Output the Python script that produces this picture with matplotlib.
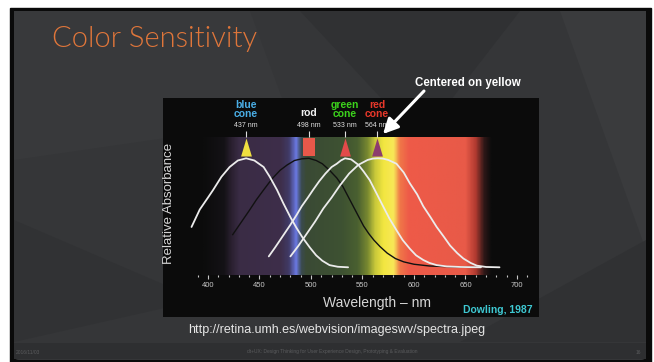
import matplotlib
matplotlib.use("Agg")
import matplotlib.pyplot as plt
import numpy as np
from matplotlib.colors import LinearSegmentedColormap
from matplotlib.patches import FancyBboxPatch, Polygon, Rectangle

plt.rcParams['font.family'] = ['Liberation Sans', 'DejaVu Sans']

# absorbance curves (wavelength nm, relative absorbance)
blue_nm = [384, 392, 400, 405, 413, 421, 429, 437, 445, 454, 460, 467, 473, 480, 486, 492, 499, 505, 511,
           518, 526, 536]
blue_abs = [0.37, 0.53, 0.64, 0.71, 0.83, 0.92, 0.98, 1.0, 0.98, 0.92, 0.83, 0.71, 0.59, 0.46, 0.36, 0.27,
            0.18, 0.11, 0.06, 0.02, 0.005, 0.0]

rod_nm = [424, 432, 440, 447, 454, 462, 470, 477, 484, 491, 498, 505, 511, 518, 525, 531, 536, 541, 546,
          551, 556, 561, 567, 574, 582, 590, 600, 615, 640, 660]
rod_abs = [0.30, 0.41, 0.52, 0.62, 0.71, 0.81, 0.89, 0.94, 0.98, 0.995, 1.0, 0.98, 0.95, 0.89, 0.82, 0.74,
           0.65, 0.56, 0.47, 0.38, 0.31, 0.25, 0.19, 0.13, 0.08, 0.05, 0.028, 0.012, 0.003, 0.0]

green_nm = [459, 465, 470, 475, 480, 486, 491, 497, 502, 508, 514, 520, 525, 529, 533, 539, 546, 551, 557,
            563, 570, 576, 583, 589, 596, 602, 609, 615, 622, 632, 645, 665]
green_abs = [0.10, 0.18, 0.25, 0.32, 0.39, 0.48, 0.56, 0.64, 0.71, 0.79, 0.86, 0.92, 0.95, 0.98, 1.0, 0.99,
             0.94, 0.88, 0.80, 0.69, 0.56, 0.45, 0.34, 0.25, 0.17, 0.11, 0.067, 0.04, 0.02, 0.008, 0.003, 0.0]

red_nm = [480, 488, 496, 504, 512, 520, 528, 537, 546, 555, 560, 565, 570, 575, 583, 590, 596, 603,
          609, 616, 622, 629, 635, 642, 648, 655, 661, 670, 683]
red_abs = [0.10, 0.20, 0.31, 0.42, 0.54, 0.64, 0.75, 0.86, 0.94, 0.985, 0.997, 1.0, 0.997, 0.985, 0.95, 0.87,
           0.77, 0.67, 0.56, 0.46, 0.37, 0.28, 0.20, 0.13, 0.08, 0.04, 0.015, 0.003, 0.0]

peak_names = ['blue\ncone', 'rod', 'green\ncone', 'red\ncone']
peak_nm = [437, 498, 533, 564]
peak_labels = ['437 nm', '498 nm', '533 nm', '564 nm']
name_colors = ['#4aaee6', '#f2f2f2', '#3cd41c', '#e8382a']
marker_colors = ['#f0e040', '#e8584a', '#e24a4a', '#8c3c6e']

tick_major = [400, 450, 500, 550, 600, 650, 700]
tick_minor = list(range(390, 711, 10))

# colours of the spectrum strip behind the curves
band_nm = [395, 415, 422, 430, 470, 478, 485, 490, 495, 530, 545, 555, 562, 570, 580, 586, 595, 650, 660, 668, 675]
band_colors = ['#0c0c0c', '#141216', '#2a2030', '#3a2c45', '#3e2e4a', '#403a66', '#6a78e0', '#3a4a50',
               '#3a4a35', '#3e5232', '#4a6030', '#7a8a30', '#c8c83a', '#f2e640', '#f8e858', '#f07848',
               '#ee5a48', '#e85a48', '#b03a30', '#301818', '#0c0c0c']

W, H = 654, 362
fig = plt.figure(figsize=(W / 100, H / 100), dpi=100, facecolor='white')

# slide background in pixel coordinates
bg = fig.add_axes([0, 0, 1, 1])
bg.set_xlim(0, W)
bg.set_ylim(H, 0)
bg.axis('off')
bg.add_patch(Rectangle((10, 8), 641, 356, color='#0a0a0a'))
bg.add_patch(FancyBboxPatch((14, 11), 632, 349, boxstyle='round,pad=0,rounding_size=5',
                            color='#353638', lw=0))
for pts, c in [([(14, 11), (250, 11), (290, 120), (14, 160)], '#38393b'),
               ([(300, 11), (520, 11), (420, 140)], '#303133'),
               ([(560, 11), (646, 11), (646, 250)], '#3a3b3d'),
               ([(14, 220), (200, 300), (14, 342)], '#313234'),
               ([(460, 342), (646, 240), (646, 342)], '#303133')]:
    bg.add_patch(Polygon(pts, closed=True, color=c, lw=0))
bg.add_patch(Rectangle((14, 343), 632, 16, color='#2e2f31', lw=0))
bg.text(52, 47, 'Color Sensitivity', color='#e0763a', fontsize=21, family=['Lato', 'DejaVu Sans'],
        weight=300, va='baseline', ha='left')
bg.text(337, 330, 'http://retina.umh.es/webvision/imageswv/spectra.jpeg', color='#e6e6e6',
        fontsize=9, ha='center', va='center')
bg.text(16, 352, '2016/11/03', color='#5a5b5d', fontsize=3.5, va='center')
bg.text(332, 352, 'dt+UX: Design Thinking for User Experience Design, Prototyping & Evaluation',
        color='#5a5b5d', fontsize=3.5, ha='center', va='center')
bg.text(641, 352, '16', color='#5a5b5d', fontsize=3.5, ha='right', va='center')

# chart box: 400 nm at x=208 px, 700 nm at x=517 px; absorbance 0 at y=267.3 px, 1 at y=158.3 px
box_l, box_r, box_t, box_b = 163, 539, 98, 317
ax = fig.add_axes([box_l / W, (H - box_b) / H, (box_r - box_l) / W, (box_b - box_t) / H])
ax.set_facecolor('#0b0b0b')
pxnm = 309 / 300
ax.set_xlim(400 - (208 - box_l) / pxnm, 400 + (box_r - 208) / pxnm)
ax.set_ylim(-(box_b - 267.3) / 109, (267.3 - box_t) / 109)

cmap = LinearSegmentedColormap.from_list(
    'band', [((n - band_nm[0]) / (band_nm[-1] - band_nm[0]), c) for n, c in zip(band_nm, band_colors)])
grad = np.linspace(0, 1, 600)[None, :]
ax.imshow(grad, cmap=cmap, aspect='auto', extent=[band_nm[0], band_nm[-1], -0.07, 1.195],
          interpolation='bilinear', zorder=1)

ax.plot(rod_nm, rod_abs, color='#111111', lw=1.0, zorder=3)
for xs, ys in [(blue_nm, blue_abs), (green_nm, green_abs), (red_nm, red_abs)]:
    ax.plot(xs, ys, color='#ececec', lw=1.3, zorder=4, solid_capstyle='round', solid_joinstyle='round')

tri = [(-0.6, -1), (0.6, -1), (0, 1)]
sq = [(-0.62, -1), (0.62, -1), (0.62, 1), (-0.62, 1)]
for i, nm in enumerate(peak_nm):
    ax.plot([nm], [1.108], marker=sq if i == 1 else tri, markersize=13, color=marker_colors[i],
            markeredgewidth=0, zorder=5)
ax.vlines(peak_nm, 1.20, 1.25, color='#dddddd', lw=0.8, zorder=5)
for i, nm in enumerate(peak_nm):
    ax.text(nm, 1.30, peak_labels[i], color='#e0e0e0', fontsize=5, ha='center', va='center', zorder=6)
    yname = 1.42 if i == 1 else 1.45
    ax.text(nm, yname, peak_names[i], color=name_colors[i], fontsize=7.5, weight='bold', ha='center',
            va='center', linespacing=0.9, zorder=6)

for s in ['left', 'right', 'top']:
    ax.spines[s].set_visible(False)
ax.spines['bottom'].set_position(('data', -0.075))
ax.spines['bottom'].set_color('none')
ax.set_yticks([])
ax.set_xticks(tick_major)
ax.set_xticks(tick_minor, minor=True)
ax.tick_params(axis='x', which='major', direction='out', length=3, width=0.8, color='#c8c8c8',
               labelsize=5.5, labelcolor='#c8c8c8', pad=1.5)
ax.tick_params(axis='x', which='minor', direction='out', length=1.5, width=0.8, color='#c8c8c8')
ax.set_xlabel('Wavelength \u2013 nm', color='#d6d6d6', fontsize=10)
ax.xaxis.set_label_coords((377 - box_l) / (box_r - box_l), (box_b - 296) / (box_b - box_t))
ax.set_ylabel('Relative Absorbance', color='#d6d6d6', fontsize=9.5)
ax.yaxis.set_label_coords((175 - box_l) / (box_r - box_l), (box_b - 203) / (box_b - box_t))
ax.text((498 - box_l) / (box_r - box_l), (box_b - 310) / (box_b - box_t), 'Dowling, 1987',
        transform=ax.transAxes, color='#3ec8d2', fontsize=7.5, weight='bold', ha='center', va='center')

# annotation above the chart
top = fig.add_axes([0, 0, 1, 1], facecolor='none')
top.set_xlim(0, W)
top.set_ylim(H, 0)
top.axis('off')
top.text(468, 83, 'Centered on yellow', color='white', fontsize=8.3, weight='bold', ha='center', va='center')
top.annotate('', xy=(383, 134), xytext=(424, 91),
             arrowprops=dict(arrowstyle='-|>,head_length=0.9,head_width=0.45', color='white', lw=2.2,
                             shrinkA=0, shrinkB=0))

fig.savefig('out.png', dpi=100, facecolor=fig.get_facecolor())
